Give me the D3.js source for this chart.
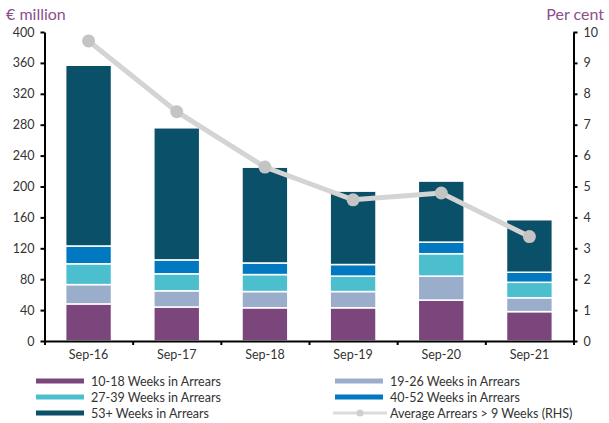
<!DOCTYPE html>
<html><head><meta charset="utf-8">
<script src="https://cdn.jsdelivr.net/npm/d3@7"></script>
<style>
body{margin:0;background:#fff;}
text{font-family:Lato, "Open Sans", sans-serif;}
</style></head>
<body><svg id="c" width="609" height="423"></svg>
<script>
const categories = ["Sep-16","Sep-17","Sep-18","Sep-19","Sep-20","Sep-21"];
const w10_18 = [48, 44, 43, 43, 53, 38];
const w19_26 = [25, 21, 21, 21, 31, 18];
const w27_39 = [27, 22, 22, 20, 29, 20];
const w40_52 = [23, 18, 15, 15, 15, 13];
const w53p   = [234, 171, 124, 95, 79, 68];
const avgArrears = [9.71, 7.42, 5.63, 4.57, 4.79, 3.38];
const leftTicks = [0,40,80,120,160,200,240,280,320,360,400];
const rightTicks = [0,1,2,3,4,5,6,7,8,9,10];
const seriesNames = ["10-18 Weeks in Arrears","19-26 Weeks in Arrears","27-39 Weeks in Arrears","40-52 Weeks in Arrears","53+ Weeks in Arrears"];
const lineName = "Average Arrears > 9 Weeks (RHS)";
const colors = ["#7b467b","#9aaecb","#4cbfcf","#0079c1","#0b5069"];

const svg = d3.select("#c");
const L = 44.5, R = 573.5, T = 32, B = 341;
const x = d3.scaleBand().domain(categories).range([L, R]).paddingInner(0.48).paddingOuter(0.24);
const y = d3.scaleLinear().domain([0,400]).range([B, T]);
const y2 = d3.scaleLinear().domain([0,10]).range([B, T]);

const rows = categories.map((c,i)=>({cat:c, s0:w10_18[i], s1:w19_26[i], s2:w27_39[i], s3:w40_52[i], s4:w53p[i]}));
const stack = d3.stack().keys(["s0","s1","s2","s3","s4"])(rows);

svg.append("g").selectAll("g").data(stack).join("g")
  .attr("fill",(d,i)=>colors[i])
  .selectAll("rect").data(d=>d).join("rect")
  .attr("x", d=>x(d.data.cat))
  .attr("width", x.bandwidth())
  .attr("y", d=>y(d[1]))
  .attr("height", d=>y(d[0])-y(d[1]))
  .attr("stroke","#fff").attr("stroke-width",1.5);

// axes
const axL = svg.append("g").attr("transform",`translate(${L},0)`)
  .call(d3.axisLeft(y).tickValues(leftTicks).tickSize(4).tickSizeOuter(0).tickPadding(6));
const axR = svg.append("g").attr("transform",`translate(${R},0)`)
  .call(d3.axisRight(y2).tickValues(rightTicks).tickSize(4).tickSizeOuter(0).tickPadding(6));
const bounds = d3.range(categories.length+1).map(i=>L + i*(R-L)/categories.length);
const xs = d3.scaleLinear().domain([0,categories.length]).range([L,R]);
const axB = svg.append("g").attr("transform",`translate(0,${B})`)
  .call(d3.axisBottom(xs).tickValues(d3.range(categories.length+1)).tickSize(4).tickSizeOuter(0).tickFormat(""));
[axL,axR,axB].forEach(a=>{
  a.select(".domain").attr("stroke","#000").attr("stroke-width",2);
  a.selectAll(".tick line").attr("stroke","#000").attr("stroke-width",2);
  a.selectAll(".tick text").attr("fill","#333").style("font-size","12.5px").style("font-family","Lato, sans-serif");
});
svg.append("g").selectAll("text").data(categories).join("text")
  .attr("x", d=>x(d)+x.bandwidth()/2).attr("y", B+18)
  .attr("text-anchor","middle").attr("fill","#333").style("font-size","12.5px")
  .text(d=>d);

// line
const lx = (d,i)=>x(categories[i])+x.bandwidth()/2;
svg.append("path").datum(avgArrears)
  .attr("d", d3.line().x(lx).y(d=>y2(d)))
  .attr("fill","none").attr("stroke","#d4d4d4").attr("stroke-width",5);
svg.append("g").selectAll("circle").data(avgArrears).join("circle")
  .attr("cx", lx).attr("cy", d=>y2(d)).attr("r",6.5).attr("fill","#c4c4c4");

// titles
svg.append("text").attr("x",6).attr("y",20).attr("fill","#8b4f8b").style("font-size","16px").text("€ million");
svg.append("text").attr("x",604).attr("y",20).attr("text-anchor","end").attr("fill","#8b4f8b").style("font-size","16px").text("Per cent");

// legend
const leg = [
  {n:seriesNames[0], c:colors[0], x:36, y:381},
  {n:seriesNames[1], c:colors[1], x:335, y:381},
  {n:seriesNames[2], c:colors[2], x:36, y:397},
  {n:seriesNames[3], c:colors[3], x:335, y:397},
  {n:seriesNames[4], c:colors[4], x:36, y:413},
];
const lg = svg.append("g");
leg.forEach(d=>{
  lg.append("rect").attr("x",d.x).attr("y",d.y-2.5).attr("width",48).attr("height",5).attr("fill",d.c);
  lg.append("text").attr("x",d.x+55).attr("y",d.y+4.5).attr("fill","#333").style("font-size","12.5px").text(d.n);
});
lg.append("line").attr("x1",333).attr("x2",387).attr("y1",413).attr("y2",413).attr("stroke","#dcdcdc").attr("stroke-width",3);
lg.append("circle").attr("cx",360).attr("cy",413).attr("r",3.5).attr("fill","#d0d0d0");
lg.append("text").attr("x",390).attr("y",417.5).attr("fill","#333").style("font-size","12.5px").text(lineName);
</script></body></html>
